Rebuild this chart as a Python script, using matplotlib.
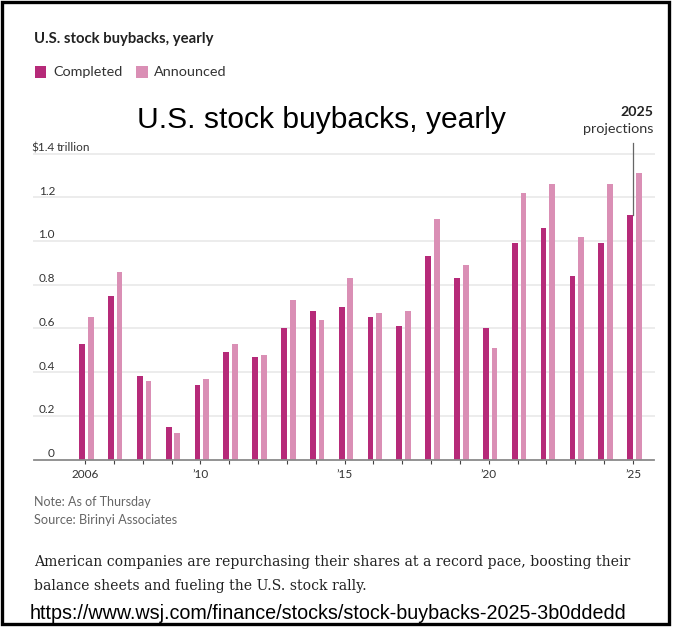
import numpy as np
import matplotlib
matplotlib.use("Agg")
import matplotlib.pyplot as plt
from matplotlib.patches import Rectangle

# data (trillions of dollars)
years = list(range(2006, 2026))
completed = [0.53, 0.75, 0.38, 0.15, 0.34, 0.49, 0.47, 0.60, 0.68, 0.70,
             0.65, 0.61, 0.93, 0.83, 0.60, 0.99, 1.06, 0.84, 0.99, 1.12]
announced = [0.65, 0.86, 0.36, 0.12, 0.37, 0.53, 0.48, 0.73, 0.64, 0.83,
             0.67, 0.68, 1.10, 0.89, 0.51, 1.22, 1.26, 1.02, 1.26, 1.31]
ytick_vals = [0, 0.2, 0.4, 0.6, 0.8, 1.0, 1.2]
ytick_labels = ["0", "0.2", "0.4", "0.6", "0.8", "1.0", "1.2"]
xlabel_years = [2006, 2010, 2015, 2020, 2025]
xlabel_text = ["2006", "\u201910", "\u201915", "\u201920", "\u201925"]

c_done = "#b62a79"
c_ann = "#da8fb5"
sans = ["Lato", "DejaVu Sans"]

W, H = 674, 628
fig = plt.figure(figsize=(W / 100, H / 100), dpi=100)
renderer = fig.canvas.get_renderer()


def fx(x):
    return x / W


def fy(y):
    return 1 - y / H


def fit(x, y, s, width, **kw):
    # put text at pixel position, then scale font so it spans `width` px
    t = fig.text(fx(x), fy(y), s, **kw)
    bb = t.get_window_extent(renderer)
    t.set_fontsize(t.get_fontsize() * width / bb.width)
    return t


# plot area: 2006 tick at x=85px, 2025 at 633px, baseline y=459.5, 1.4 at 153.5
ax = fig.add_axes([fx(34), fy(459.5), 620 / W, 306 / H])
pxyr = (633 - 85) / 19
ax.set_xlim(2006 - 51 / pxyr, 2025 + 21 / pxyr)
ax.set_ylim(0, 1.4)
for s in ax.spines.values():
    s.set_visible(False)

yrs = np.array(years)
ax.bar(yrs - 0.1, completed, width=0.2, color=c_done, zorder=3)
ax.bar(yrs + 0.2, announced, width=0.2, color=c_ann, zorder=3)

for v in ytick_vals[1:] + [1.4]:
    ax.axhline(v, color="#ececec", lw=1.4, zorder=1, clip_on=False)
ax.axhline(0, color="#8a8a8a", lw=1.3, zorder=4, clip_on=False)

ax.set_yticks([])
ax.set_xticks(years)
ax.set_xticklabels([xlabel_text[xlabel_years.index(y)] if y in xlabel_years else ""
                    for y in years])
ax.tick_params(axis="x", length=3, width=0.8, color="#444444", pad=4,
               labelsize=8.5, labelcolor="#333333")
for lab in ax.get_xticklabels():
    lab.set_family(sans)

ytr = ax.get_yaxis_transform()
lx = 21 / 620
off = 2.5 / 218.6
for v, lab in zip(ytick_vals, ytick_labels):
    ax.text(lx, v + off, lab, transform=ytr, ha="right", va="baseline",
            fontsize=8.5, color="#333333", family=sans)
ax.text(lx, 1.4 + off, "$1.4", transform=ytr, ha="right", va="baseline",
        fontsize=8.5, color="#333333", family=sans)
ax.text(lx + 2 / 620, 1.4 + off, "trillion", transform=ytr, ha="left",
        va="baseline", fontsize=8.5, color="#333333", family=sans)

# 2025 projections marker
ax.plot([2025.0, 2025.0], [1.4 + 10.5 / 218.6, completed[-1]], color="#666666",
        lw=0.9, clip_on=False, zorder=2)
fit(653, 116, "2025", 33, ha="right", va="baseline", fontsize=10,
    fontweight="bold", color="#222222", family=sans)
fit(653, 133, "projections", 71, ha="right", va="baseline", fontsize=10,
    color="#333333", family=sans)

# header
fit(34, 43, "U.S. stock buybacks, yearly", 179, ha="left", va="baseline",
    fontsize=11, fontweight="bold", color="#222222", family=sans)
for x0, col, lab, tx, tw in [(35, c_done, "Completed", 53, 70),
                             (136, c_ann, "Announced", 154, 73)]:
    fig.add_artist(Rectangle((fx(x0), fy(77.5)), 11.5 / W, 11.5 / H,
                             transform=fig.transFigure, color=col, lw=0))
    fit(tx, 76.5, lab, tw, ha="left", va="baseline", fontsize=10,
        color="#333333", family=sans)

fit(137, 128, "U.S. stock buybacks, yearly", 368, ha="left", va="baseline",
    fontsize=20, family="Liberation Sans", color="black")

# footer
fit(34, 506.5, "Note: As of Thursday", 117, ha="left", va="baseline",
    fontsize=8.5, color="#666666", family=sans)
fit(34, 524.5, "Source: Birinyi Associates", 143, ha="left", va="baseline",
    fontsize=8.5, color="#666666", family=sans)
fit(34, 566, "American companies are repurchasing their shares at a record pace, boosting their",
    594, ha="left", va="baseline", fontsize=11, color="#222222", family="DejaVu Serif")
t1 = fig.texts[-1]
fig.text(fx(34), fy(590), "balance sheets and fueling the U.S. stock rally.",
         ha="left", va="baseline", fontsize=t1.get_fontsize(), color="#222222",
         family="DejaVu Serif")
fit(30, 619, "https://www.wsj.com/finance/stocks/stock-buybacks-2025-3b0ddedd", 600,
    ha="left", va="baseline", fontsize=14, family="Liberation Sans", color="black")

# frame
fig.add_artist(Rectangle((fx(1.5), fy(624)), 667 / W, 622.5 / H,
                         transform=fig.transFigure, fill=False, ec="black", lw=2.4))

fig.savefig("out.png", dpi=100)
